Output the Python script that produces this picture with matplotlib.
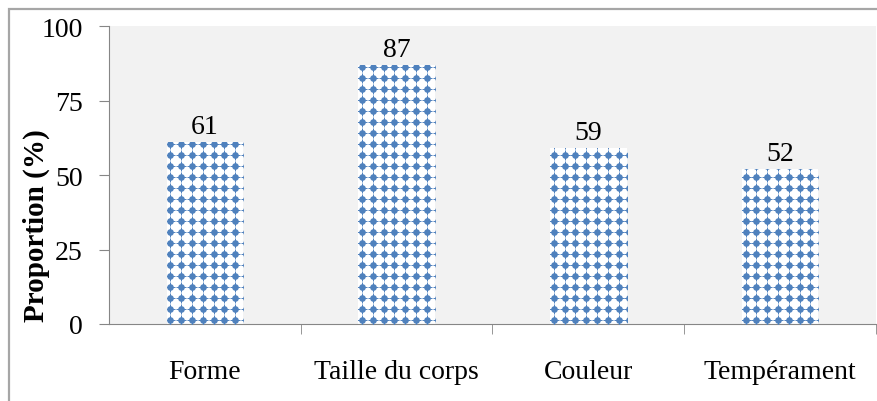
import matplotlib.pyplot as plt
from matplotlib.patches import Rectangle
import numpy as np

categories = ["Forme", "Taille du corps", "Couleur", "Tempérament"]
proportions = [61, 87, 59, 52]
y_ticks = [0, 25, 50, 75, 100]

plt.rcParams['font.family'] = ['Liberation Serif', 'DejaVu Serif']

fig = plt.figure(figsize=(8.77, 4.02), dpi=100)
ax = fig.add_axes([109 / 877, 77 / 402, 767 / 877, 298 / 402])
ax.set_facecolor("#f2f2f2")

x = np.arange(len(categories))
bars = ax.bar(x, proportions, width=0.4, color="white", linewidth=0, zorder=2)

# dotted texture like the excel fill, clipped to each bar
dx = 10.8 / 192
dy = 3.7
rows = np.arange(1.2, 100, dy)
for i, b in enumerate(bars):
    cols = np.arange(x[i] - 0.2 + 0.02, x[i] + 0.2 + dx, dx)
    gx, gy = np.meshgrid(cols, rows)
    for marker, size, lw in (("o", 23, 0), ("+", 52, 0.7)):
        sc = ax.scatter(gx.ravel(), gy.ravel(), s=size, marker=marker,
                        color="#4f81bd", linewidths=lw, zorder=3)
        sc.set_clip_path(b)

for xi, v in zip(x, proportions):
    ax.annotate(str(v), xy=(xi, v), xytext=(0, 2), textcoords="offset points",
                ha="center", va="bottom", fontsize=20)

ax.set_xlim(-0.5, 3.5)
ax.set_ylim(0, 100)
ax.set_yticks(y_ticks)
ax.tick_params(axis="y", labelsize=20, length=7, color="#868686", pad=12)
ax.set_xticks(x)
ax.set_xticklabels(categories)
ax.set_xticks([0.5, 1.5, 2.5, 3.5], minor=True)
ax.tick_params(axis="x", which="major", length=0, labelsize=20, pad=25)
ax.tick_params(axis="x", which="minor", length=7, color="#868686")

for s in ("top", "right"):
    ax.spines[s].set_visible(False)
for s in ("left", "bottom"):
    ax.spines[s].set_color("#868686")

ax.set_ylabel("Proportion (%)", fontsize=21, fontweight="bold")
ax.yaxis.set_label_coords(-0.077, 0.332)

fig.patches.append(Rectangle((9 / 877, -0.05), 1.0, (392 + 20) / 402,
                             transform=fig.transFigure, fill=False,
                             edgecolor="#a6a6a6", linewidth=1.6))

fig.savefig("out.png", dpi=100)
